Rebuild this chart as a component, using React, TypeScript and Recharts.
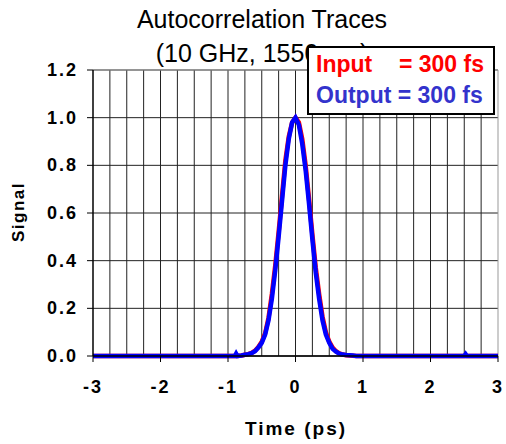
import {
  CartesianGrid,
  Line,
  LineChart,
  ReferenceLine,
  XAxis,
  YAxis,
} from "recharts";

// time axis (ps) and the two autocorrelation traces
const times = [
  -3, -1.0, -0.9, -0.88, -0.86, -0.8, -0.75, -0.7, -0.65, -0.6, -0.55, -0.5,
  -0.45, -0.4, -0.35, -0.3, -0.25, -0.2, -0.15, -0.1, -0.05, 0, 0.05, 0.1,
  0.15, 0.2, 0.25, 0.3, 0.35, 0.4, 0.45, 0.5, 0.55, 0.6, 0.65, 0.7, 0.75, 0.8,
  0.85, 0.9, 1.0, 2.5, 2.52, 2.54, 3,
];
const inputTrace = [
  0, 0, 0, 0, 0, 0.002, 0.005, 0.008, 0.013, 0.022, 0.038, 0.06,
  0.095, 0.16, 0.26, 0.38, 0.52, 0.67, 0.82, 0.92, 0.98, 1.0, 0.98, 0.91,
  0.8, 0.66, 0.51, 0.37, 0.26, 0.165, 0.1, 0.06, 0.035, 0.02, 0.011, 0.006,
  0.003, 0.002, 0.001, 0, 0, 0, 0, 0, 0,
];
const outputTrace = [
  0, 0, 0, 0.01, 0, 0.002, 0.005, 0.008, 0.012, 0.02, 0.035, 0.055,
  0.09, 0.15, 0.24, 0.36, 0.5, 0.65, 0.8, 0.91, 0.98, 1.0, 0.97, 0.89,
  0.78, 0.64, 0.49, 0.35, 0.24, 0.15, 0.09, 0.055, 0.03, 0.018, 0.01, 0.006,
  0.004, 0.003, 0.002, 0, 0, 0, 0.008, 0, 0,
];

const xTicks = [-3, -2, -1, 0, 1, 2, 3];
const yTicks = [0, 0.2, 0.4, 0.6, 0.8, 1.0, 1.2];
const xGrid = [
  -2.75, -2.5, -2.25, -2, -1.75, -1.5, -1.25, -1, -0.75, -0.5, -0.25, 0, 0.25,
  0.5, 0.75, 1, 1.25, 1.5, 1.75, 2, 2.25, 2.5, 2.75,
];

const titleLines = ["Autocorrelation Traces", "(10 GHz, 1550 nm)"];
const legendInput = ["Input", "= 300 fs"];
const legendOutput = "Output = 300 fs";

const data = times.map((t, i) => ({
  t,
  input: inputTrace[i],
  output: outputTrace[i],
}));

const FONT = "'Liberation Sans', Arial, sans-serif";

// Excel-style bold tick labels, a bit wider spaced than the plain font
const XTick = (props: { x?: number; y?: number; payload?: { value: number } }) => {
  const { x = 0, y = 0, payload } = props;
  return (
    <text
      x={x}
      y={y + 13}
      textAnchor="middle"
      fontFamily={FONT}
      fontSize={18}
      fontWeight={700}
      letterSpacing={2}
      fill="#000"
    >
      {String(payload?.value)}
    </text>
  );
};

const YTick = (props: { x?: number; y?: number; payload?: { value: number } }) => {
  const { x = 0, y = 0, payload } = props;
  return (
    <text
      x={x}
      y={y + 6}
      textAnchor="end"
      fontFamily={FONT}
      fontSize={18}
      fontWeight={700}
      letterSpacing={2}
      fill="#000"
    >
      {payload ? payload.value.toFixed(1) : ""}
    </text>
  );
};

export default function App() {
  return (
    <div
      style={{
        position: "absolute",
        left: 0,
        top: 0,
        width: 506,
        height: 444,
        background: "#fff",
      }}
    >
      <LineChart
        width={506}
        height={444}
        data={data}
        margin={{ top: 70, right: 8, left: 0, bottom: 0 }}
      >
        <CartesianGrid vertical={false} stroke="#222" />
        {xGrid.map((x) => (
          <ReferenceLine key={x} x={x} stroke="#222" />
        ))}
        <ReferenceLine y={1.2} stroke="#999" />
        <ReferenceLine x={3} stroke="#999" />
        <XAxis
          dataKey="t"
          type="number"
          domain={[-3, 3]}
          ticks={xTicks}
          height={88}
          tick={<XTick />}
          tickSize={6}
          tickMargin={18}
          axisLine={{ stroke: "#000", strokeWidth: 1.5 }}
          tickLine={{ stroke: "#000" }}
        />
        <YAxis
          type="number"
          domain={[0, 1.2]}
          ticks={yTicks}
          width={93}
          tick={<YTick />}
          tickSize={6}
          tickMargin={9}
          axisLine={{ stroke: "#000", strokeWidth: 1.5 }}
          tickLine={{ stroke: "#000" }}
        />
        <Line
          type="linear"
          dataKey="input"
          stroke="#FF0000"
          strokeWidth={4.5}
          dot={false}
          isAnimationActive={false}
        />
        <Line
          type="linear"
          dataKey="output"
          stroke="#0000FF"
          strokeWidth={4.5}
          dot={false}
          isAnimationActive={false}
        />
      </LineChart>
      <svg
        width={506}
        height={444}
        style={{ position: "absolute", left: 0, top: 0, pointerEvents: "none" }}
        fontFamily={FONT}
      >
        <text x={262} y={28} textAnchor="middle" fontSize={25}>
          {titleLines[0]}
        </text>
        <text x={262} y={62} textAnchor="middle" fontSize={25}>
          {titleLines[1]}
        </text>
        <text
          x={24}
          y={212}
          textAnchor="middle"
          fontSize={17}
          fontWeight={700}
          letterSpacing={1.5}
          transform="rotate(-90, 24, 212)"
        >
          Signal
        </text>
        <text
          x={296}
          y={435}
          textAnchor="middle"
          fontSize={19}
          fontWeight={700}
          letterSpacing={2}
        >
          Time (ps)
        </text>
        <rect
          x={308}
          y={47}
          width={186}
          height={67}
          fill="#fff"
          stroke="#000"
          strokeWidth={2}
        />
        <text x={316} y={72} fontSize={23} fontWeight={700} fill="#FF0000">
          {legendInput[0]}
        </text>
        <text
          x={484}
          y={72}
          textAnchor="end"
          fontSize={23}
          fontWeight={700}
          fill="#FF0000"
        >
          {legendInput[1]}
        </text>
        <text x={316} y={103} fontSize={23} fontWeight={700} fill="#3333CC">
          {legendOutput}
        </text>
      </svg>
    </div>
  );
}
